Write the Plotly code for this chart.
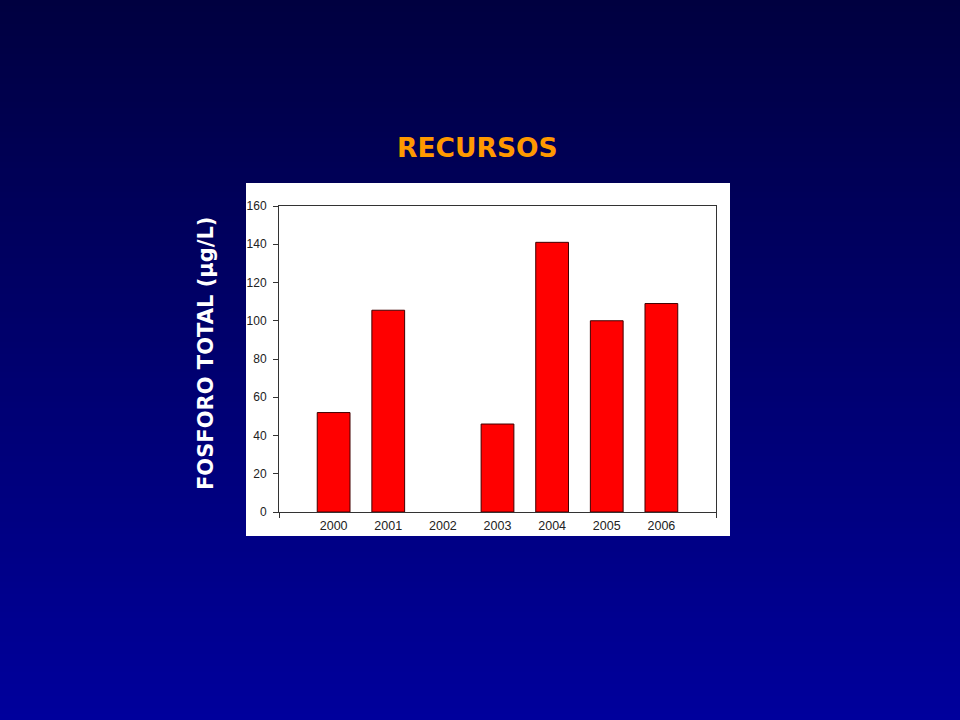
import plotly.graph_objects as go

years = [2000, 2001, 2002, 2003, 2004, 2005, 2006]
fosforo = [52, 105.5, None, 46, 141, 100, 109]
y_ticks = [0, 20, 40, 60, 80, 100, 120, 140, 160]

fig = go.Figure()
fig.add_trace(go.Bar(
    x=years, y=fosforo, width=0.6,
    marker=dict(color="#FF0000", line=dict(color="#400000", width=1)),
    xaxis="x", yaxis="y",
))
# invisible helper trace for the end ticks of the category axis
fig.add_trace(go.Scatter(x=[1999, 2007], y=[None, None], xaxis="x2", yaxis="y",
                         mode="markers", showlegend=False, hoverinfo="skip"))

# gradient background
shapes = []
n = 120
top = (0, 0, 0x40)
bot = (0, 0, 0x9C)
for i in range(n):
    t = i / (n - 1)
    c = tuple(int(round(top[k] + (bot[k] - top[k]) * t)) for k in range(3))
    shapes.append(dict(type="rect", xref="paper", yref="paper",
                       x0=-2, x1=3, y0=1 + (206 / 306) - (i / n) * (720 / 306),
                       y1=1 + (206 / 306) - ((i + 1) / n) * (720 / 306) - 0.002,
                       fillcolor="rgb(%d,%d,%d)" % c, line=dict(width=0), layer="below"))
# white chart box
shapes.append(dict(type="rect", xref="paper", yref="paper",
                   x0=(246 - 279) / 437, x1=(730 - 279) / 437,
                   y0=(512 - 536) / 306, y1=(512 - 183) / 306,
                   fillcolor="white", line=dict(width=0), layer="below"))

fig.update_layout(
    width=960, height=720,
    margin=dict(l=279, r=244, t=206, b=208, pad=0),
    paper_bgcolor="#00006A",
    plot_bgcolor="white",
    showlegend=False,
    shapes=shapes,
    xaxis=dict(range=[1999, 2007], tickvals=years, ticktext=[str(y) for y in years],
               ticks="", showgrid=False, zeroline=False, ticklabelstandoff=2,
               showline=True, linecolor="#333333", linewidth=1, mirror=True,
               tickfont=dict(family="Liberation Sans, Arial", size=12.5, color="#222222")),
    xaxis2=dict(range=[1999, 2007], overlaying="x", side="bottom", tickvals=[1999, 2007],
                showticklabels=False, ticks="outside", ticklen=5, tickcolor="#333333",
                showgrid=False, zeroline=False, showline=False),
    yaxis=dict(range=[0, 160], tickvals=y_ticks, ticks="outside", ticklen=5,
               tickcolor="#333333", showgrid=False, zeroline=False, ticklabelstandoff=4,
               showline=True, linecolor="#333333", linewidth=1, mirror=True,
               tickfont=dict(family="Liberation Sans, Arial", size=12, color="#222222")),
    annotations=[
        dict(text="<b>RECURSOS</b>", xref="paper", yref="paper",
             x=(477 - 279) / 437, y=(512 - 147) / 306, xanchor="center", yanchor="middle",
             showarrow=False, font=dict(family="DejaVu Sans", size=26.5, color="#FF9900")),
        dict(text="<b>FOSFORO TOTAL (μg/L)</b>", xref="paper", yref="paper",
             x=(206 - 279) / 437, y=(512 - 354) / 306, xanchor="center", yanchor="middle",
             textangle=-90, showarrow=False,
             font=dict(family="DejaVu Sans", size=21, color="white")),
    ],
)

fig.write_html("out.html", config={"displayModeBar": False},
               post_script="document.body.style.margin='0';document.body.style.overflow='hidden';")
